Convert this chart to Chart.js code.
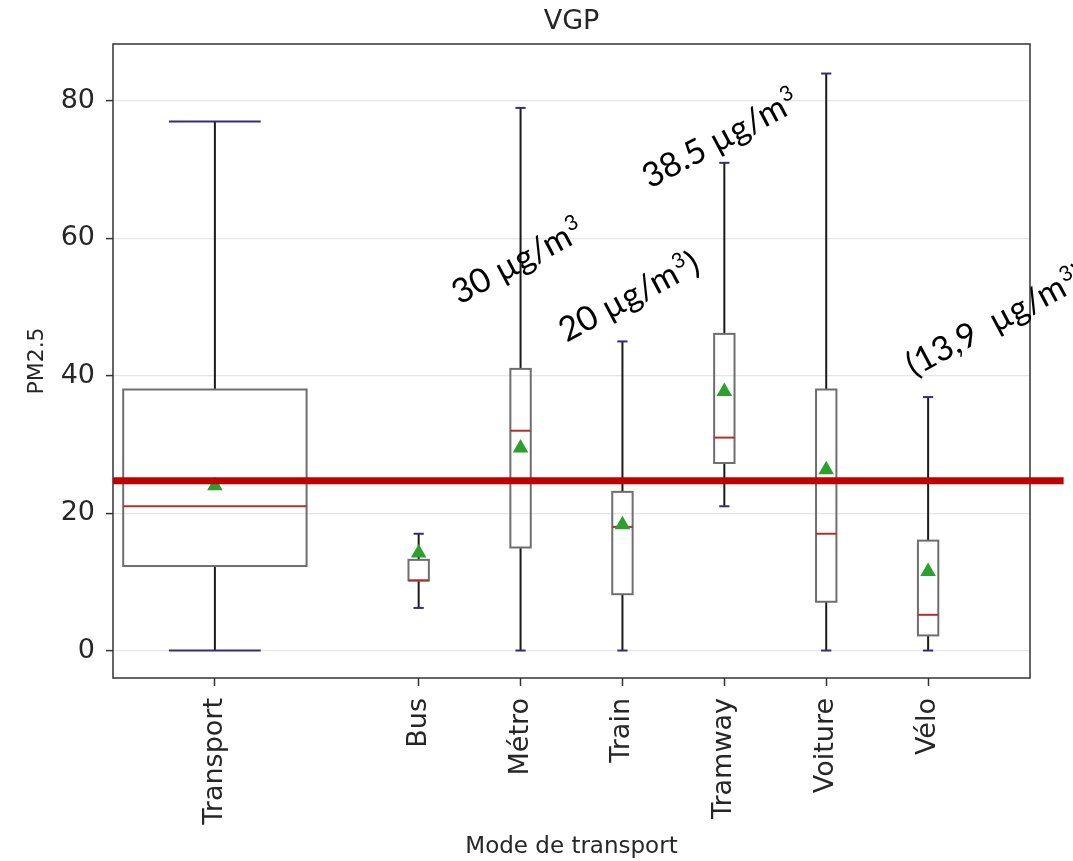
<!DOCTYPE html>
<html>
<head>
<meta charset="utf-8">
<title>VGP</title>
<script src="https://cdn.jsdelivr.net/npm/chart.js@4.4.1/dist/chart.umd.min.js"></script>
<style>
    html, body { margin: 0; padding: 0; background: #fff; }
    #wrap { width: 1073px; height: 861px; }
</style>
</head>
<body>
<div id="wrap"><canvas id="vgpChart" width="1073" height="861"></canvas></div>
<script>
// Box statistics per transport mode (PM2.5, µg/m³)
const categories = ['Transport', 'Bus', 'Métro', 'Train', 'Tramway', 'Voiture', 'Vélo'];
const catPositions = [0, 2, 3, 4, 5, 6, 7];
const whiskerLow = [0, 6.2, 0, 0, 21, 0, 0];
const q1 = [12.3, 10.2, 15, 8.2, 27.3, 7.1, 2.2];
const medians = [21, 10.2, 32, 18, 31, 17, 5.2];
const q3 = [38, 13.2, 41, 23.1, 46.1, 38, 16];
const whiskerHigh = [77, 17, 79, 45, 71, 84, 36.9];
const means = [24.0, 14.2, 29.5, 18.3, 37.7, 26.3, 11.5];
const boxWidths = [1.8, 0.2, 0.2, 0.2, 0.2, 0.2, 0.2];

const yTicks = [0, 20, 40, 60, 80];
const refLevel = 24.7;
const refLineEnd = 8.33;

// hand-written notes on the figure: text, superscript, trailing text, anchor in data units
const notes = [
    { text: '30 µg/m', sup: '3', tail: '', x: 2.40, y: 50.3 },
    { text: '20 µg/m', sup: '3', tail: ')', x: 3.45, y: 44.8 },
    { text: '38.5 µg/m', sup: '3', tail: '', x: 4.27, y: 67.2 },
    { text: '(13,9  µg/m', sup: '3', tail: ')', x: 6.86, y: 39.8 }
];

const AXIS_FONT = 'DejaVu Sans';
const NOTE_SIZE = 34;
const INK = '#333333';

const boxPlugin = {
    id: 'boxes',
    beforeDatasetsDraw(chart) {
        const { ctx, chartArea, scales: { x, y } } = chart;
        const seg = (x1, y1, x2, y2) => {
            ctx.beginPath();
            ctx.moveTo(x1, y1);
            ctx.lineTo(x2, y2);
            ctx.stroke();
        };
        ctx.save();
        ctx.lineWidth = 2;
        categories.forEach((name, i) => {
            const cx = x.getPixelForValue(catPositions[i]);
            const half = (x.getPixelForValue(boxWidths[i]) - x.getPixelForValue(0)) / 2;
            const capHalf = half / 2;
            const yLo = y.getPixelForValue(whiskerLow[i]);
            const yQ1 = y.getPixelForValue(q1[i]);
            const yMed = y.getPixelForValue(medians[i]);
            const yQ3 = y.getPixelForValue(q3[i]);
            const yHi = y.getPixelForValue(whiskerHigh[i]);

            ctx.strokeStyle = '#1a1a1a';
            seg(cx, yQ3, cx, yHi);
            seg(cx, yQ1, cx, yLo);

            ctx.strokeStyle = '#3b2a78';
            seg(cx - capHalf, yHi, cx + capHalf, yHi);
            seg(cx - capHalf, yLo, cx + capHalf, yLo);

            ctx.strokeStyle = '#6e6e6e';
            ctx.strokeRect(cx - half, yQ3, half * 2, yQ1 - yQ3);

            ctx.strokeStyle = '#b03030';
            seg(cx - half, yMed, cx + half, yMed);
        });
        ctx.strokeStyle = INK;
        ctx.lineWidth = 1.5;
        ctx.strokeRect(chartArea.left, chartArea.top, chartArea.right - chartArea.left, chartArea.bottom - chartArea.top);
        ctx.restore();
    },
    afterDatasetsDraw(chart) {
        const { ctx, scales: { x, y } } = chart;
        ctx.save();
        ctx.fillStyle = '#000';
        ctx.textAlign = 'left';
        ctx.textBaseline = 'alphabetic';
        notes.forEach((note) => {
            ctx.save();
            ctx.translate(x.getPixelForValue(note.x), y.getPixelForValue(note.y));
            ctx.rotate(-28 * Math.PI / 180);
            ctx.font = `${NOTE_SIZE}px Lato`;
            ctx.fillText(note.text, 0, 0);
            let cursor = ctx.measureText(note.text).width + 1;
            ctx.font = `${Math.round(NOTE_SIZE * 0.62)}px Lato`;
            ctx.fillText(note.sup, cursor, -NOTE_SIZE * 0.38);
            cursor += ctx.measureText(note.sup).width + 1;
            if (note.tail) {
                ctx.font = `${NOTE_SIZE}px Lato`;
                ctx.fillText(note.tail, cursor, 0);
            }
            ctx.restore();
        });
        ctx.restore();
    }
};

const ctx = document.getElementById('vgpChart').getContext('2d');
new Chart(ctx, {
    type: 'scatter',
    data: {
        datasets: [
            {
                label: 'Référence',
                data: [{ x: -1, y: refLevel }, { x: refLineEnd, y: refLevel }],
                showLine: true,
                borderColor: '#c00000',
                borderWidth: 7,
                borderCapStyle: 'butt',
                pointRadius: 0,
                clip: false,
                order: 0
            },
            {
                label: 'Moyenne',
                data: catPositions.map((pos, i) => ({ x: pos, y: means[i] })),
                pointStyle: 'triangle',
                pointRadius: 9,
                backgroundColor: '#2ca02c',
                borderColor: '#2ca02c',
                borderWidth: 0,
                order: 1
            }
        ]
    },
    options: {
        responsive: false,
        animation: false,
        layout: { padding: { top: 0, right: 43, bottom: 0, left: 0 } },
        scales: {
            x: {
                type: 'linear',
                min: -1,
                max: 8,
                afterBuildTicks: (scale) => {
                    scale.ticks = catPositions.map((v) => ({ value: v }));
                },
                afterFit: (scale) => { scale.height = 183; },
                ticks: {
                    autoSkip: false,
                    maxRotation: 90,
                    minRotation: 90,
                    padding: 12,
                    color: '#262626',
                    font: { family: AXIS_FONT, size: 27 },
                    callback: (value) => categories[catPositions.indexOf(value)]
                },
                grid: {
                    drawOnChartArea: false,
                    tickLength: 8,
                    tickColor: INK,
                    tickWidth: 1.5
                },
                border: { display: false },
                title: {
                    display: true,
                    text: 'Mode de transport',
                    color: '#262626',
                    font: { family: AXIS_FONT, size: 23 },
                    padding: { top: 0, bottom: 0 }
                }
            },
            y: {
                type: 'linear',
                min: -4,
                max: 88.3,
                afterBuildTicks: (scale) => {
                    scale.ticks = yTicks.map((v) => ({ value: v }));
                },
                afterFit: (scale) => { scale.width = 113; },
                ticks: {
                    padding: 11,
                    color: '#262626',
                    font: { family: AXIS_FONT, size: 27 }
                },
                grid: {
                    color: '#e6e6e6',
                    lineWidth: 1.2,
                    tickLength: 7,
                    tickColor: INK,
                    tickWidth: 1.5
                },
                border: { display: false },
                title: {
                    display: true,
                    text: 'PM2.5',
                    color: '#262626',
                    font: { family: AXIS_FONT, size: 22 },
                    padding: { top: 24, bottom: 0 }
                }
            }
        },
        plugins: {
            legend: { display: false },
            tooltip: { enabled: false },
            title: {
                display: true,
                text: 'VGP',
                fullSize: false,
                color: '#262626',
                font: { family: AXIS_FONT, size: 27, weight: 'normal' },
                padding: { top: 5.5, bottom: 6.1 }
            }
        }
    },
    plugins: [boxPlugin]
});
</script>
</body>
</html>
